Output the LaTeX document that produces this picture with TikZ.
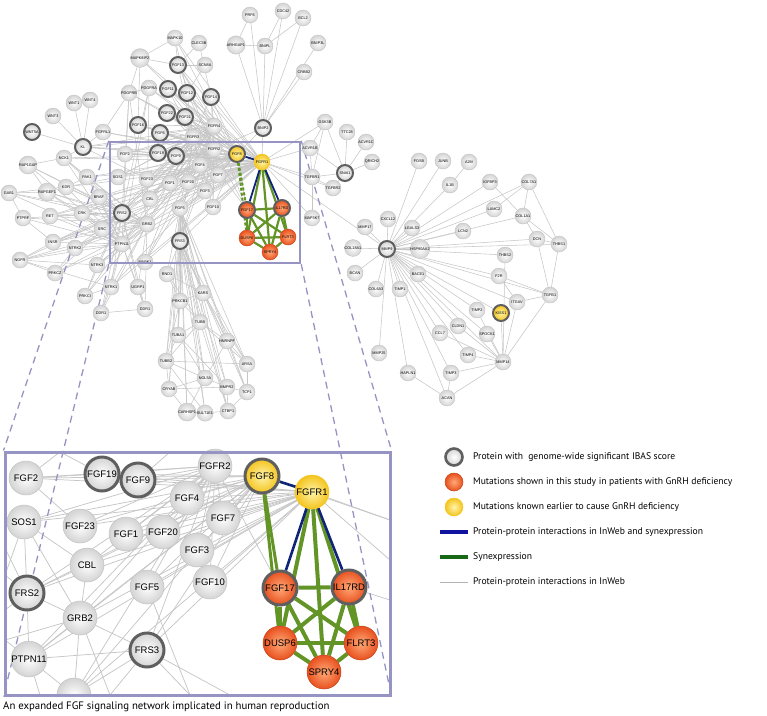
\documentclass[tikz,border=0pt]{standalone}
\usepackage{fontspec}
\setmainfont{Liberation Sans}
\newfontfamily\legfont{PT Sans}
\pgfdeclarelayer{edges}
\pgfsetlayers{edges,main}
\definecolor{nodeedge}{RGB}{195,195,195}
\definecolor{ringdark}{RGB}{95,95,95}
\definecolor{edgegrey}{RGB}{198,198,198}
\definecolor{syngreen}{RGB}{98,148,38}
\definecolor{legendgreen}{RGB}{24,105,22}
\definecolor{ppiblue}{RGB}{16,36,120}
\definecolor{legendblue}{RGB}{18,18,160}
\definecolor{boxpurple}{RGB}{150,148,194}
\definecolor{yelin}{RGB}{255,244,170}
\definecolor{yelout}{RGB}{244,196,30}
\definecolor{orin}{RGB}{255,170,120}
\definecolor{orout}{RGB}{232,80,30}
\tikzset{
 sn/.style={circle, minimum size=16, inner sep=0, draw=nodeedge, line width=0.4,
   inner color=white, outer color=black!17, font=\fontsize{3.8}{4}\selectfont},
 sd/.style={sn, draw=ringdark, line width=2},
 sy/.style={sn, inner color=yelin, outer color=yelout, draw=yelout},
 syd/.style={sy, draw=ringdark, line width=2},
 so/.style={sn, inner color=orin, outer color=orout, draw=orout!85!black},
 sod/.style={so, draw=ringdark, line width=2},
 bn/.style={circle, minimum size=34, inner sep=0, draw=nodeedge, line width=0.5,
   inner color=white, outer color=black!17, font=\fontsize{9.5}{10}\selectfont},
 bd/.style={bn, draw=ringdark, line width=3},
 by/.style={bn, inner color=yelin, outer color=yelout, draw=yelout},
 byd/.style={by, draw=ringdark, line width=3},
 bo/.style={bn, inner color=orin, outer color=orout, draw=orout!85!black},
 bod/.style={bo, draw=ringdark, line width=3},
 ge/.style={draw=edgegrey, line width=0.55},
 gei/.style={draw=edgegrey, line width=0.75},
 syn/.style={draw=syngreen, line width=2.2},
 synd/.style={draw=syngreen, line width=2, dash pattern=on 3pt off 2pt},
 syni/.style={draw=syngreen, line width=4},
 blu/.style={draw=ppiblue, line width=1.8},
 blui/.style={draw=ppiblue, line width=2.6},
 zoomline/.style={draw=boxpurple, line width=1.3, dash pattern=on 7pt off 5pt},
 frame/.style={draw=boxpurple, inner sep=0, fill=none},
 legtext/.style={anchor=west, inner sep=0, font=\legfont\fontsize{9.6}{11}\selectfont},
}
\begin{document}
\begin{tikzpicture}[x=1pt,y=-1pt]
\useasboundingbox (0,0) rectangle (767,715);
% ---------------- top network nodes ----------------
\foreach \n/\x/\y/\s/\t in {
PRF6/250/15/sn/PRF6, CDC42/283/11/sn/CDC42, BCL2/303/18/sn/BCL2, BNIP3L/318/43/sn/BNIP3L,
CRBB2/304/72/sn/CRBB2, ARHGAP1/236/45/sn/ARHGAP1, BNIPL/265/46/sn/BNIPL, BNIP2/263/128/sd/BNIP2,
MAPK10/175/38/sn/MAPK10, CLEC3B/199/43/sn/CLEC3B, MAPK8IP2/140/58/sn/MAPK8IP2,
FGF13/178/65/sd/FGF13, SCN8A/205/65/sn/SCN8A, PDGFRA/149/88/sn/PDGFRA, PDGFRB/129/93/sn/PDGFRB,
FGF11/168/89/sd/FGF11, FGF12/187/93/sd/FGF12, FGF14/211/97/sd/FGF14, FGF22/167/113/sd/FGF22,
FGF21/185/117/sd/FGF21, FGF16/138/125/sd/FGF16, FGF6/160/133/sd/FGF6, FGFR3/193/137/sn/FGFR3,
FGFR4/214/126/sn/FGFR4,
FGFRL1/103/132/sn/FGFRL1, KL/83/147/sd/KL, WNT1/74/103/sn/WNT1, WNT4/90/100/sn/WNT4,
WNT3/53/116/sn/WNT3, WNT5A/32/132/sd/WNT5A, NCK1/64/158/sn/NCK1, RAP1GAP/28/165/sn/RAP1GAP,
PAK1/87/177/sn/PAK1, KDR/66/187/sn/KDR, RAPGEF1/47/192/sn/RAPGEF1, GAB1/9/193/sn/GAB1,
BRAF/99/197/sn/BRAF, PTPRF/23/218/sn/PTPRF, RET/50/216/sn/RET, CRK/82/213/sn/CRK,
SRC/102/229/sn/SRC, INSR/53/242/sn/INSR, NTRK2/75/248/sn/NTRK2, NGFR/20/260/sn/NGFR,
NTRK3/97/265/sn/NTRK3, PRKCZ/55/273/sn/PRKCZ, PRKCI/85/296/sn/PRKCI, NTRK1/111/287/sn/NTRK1,
UGRP1/138/287/sn/UGRP1, DDRa/101/313/sn/DDR1, DDRb/145/309/sn/DDR1,
RND1/167/274/sn/RND1, PRKCB1/180/301/sn/PRKCB1, KARS/203/293/sn/KARS, TUBB/200/322/sn/TUBB,
TUBA1/178/335/sn/TUBA1, HNRNPF/227/341/sn/HNRNPF, TUBB2/166/361/sn/TUBB2, ARSA/247/364/sn/ARSA,
NOL5A/205/378/sn/NOL5A, BMPR2/227/387/sn/BMPR2, TCP1/247/392/sn/TCP1, CRYAB/169/389/sn/CRYAB,
CARHSP1/187/412/sn/CARHSP1, SULT1E1/205/413/sn/SULT1E1, CTBP1/228/411/sn/CTBP1,
FGF2/125/154/sn/FGF2, FGF19/158/153/sd/FGF19, FGF9/176/156/sd/FGF9, FGFR2/214/149/sn/FGFR2,
FGF8/237/154/syd/FGF8, FGFR1/262/162/sy/FGFR1, FGF4/200/165/sn/FGF4, FGF7/218/175/sn/FGF7,
SOS1/118/177/sn/SOS1, FGF23/147/179/sn/FGF23, FGF1/170/183/sn/FGF1, FGF20/188/182/sn/FGF20,
FGF3/205/191/sn/FGF3, CBL/150/199/sn/CBL, FGF5/180/208/sn/FGF5, FGF10/213/207/sn/FGF10,
FRS2/122/213/sd/FRS2, GRB2/147/224/sn/GRB2, FRS3/180/241/sd/FRS3, PTPN11/122/244/sn/PTPN11,
MAPK1/145/262/sn/MAPK1, FGF17/247/210/sod/FGF17, IL17RD/282/208/sod/IL17RD,
DUSP6/247/238/so/DUSP6, FLRT3/288/237/so/FLRT3, SPRY4/270/252/so/SPRY4,
GSK3B/325/122/sn/GSK3B, TTC28/347/132/sn/TTC28, ACVR1C/366/142/sn/ACVR1C, ACVR1B/310/148/sn/ACVR1B,
QRICH2/372/162/sn/QRICH2, SNAI1/345/173/sd/SNAI1, TGFBR1/312/177/sn/TGFBR1, TGFBR2/333/188/sn/TGFBR2,
MAP3K7/312/218/sn/MAP3K7,
FOSB/419/161/sn/FOSB, JUNB/443/161/sn/JUNB, A2M/469/162/sn/A2M, IL1B/450/185/sn/IL1B,
IGFBP3/490/182/sn/IGFBP3, COL7A1/529/182/sn/COL7A1, LAMC2/494/209/sn/LAMC2, COL1A1/523/216/sn/COL1A1,
LCN2/463/231/sn/LCN2, DCN/537/239/sn/DCN, THBS1/559/244/sn/THBS1, THBS2/505/255/sn/THBS2,
CXCL12/388/219/sn/CXCL12, MMP17/365/227/sn/MMP17, LGALS3/412/228/sn/LGALS3, COL18A1/353/248/sn/COL18A1,
MMP9/387/249/sd/MMP9, HSP90AA2/420/249/sn/HSP90AA2, BCAN/355/273/sn/BCAN, BACE1/418/274/sn/BACE1,
F2R/499/276/sn/F2R, COL6A3/376/289/sn/COL6A3, TIMP1/400/289/sn/TIMP1, TGFB1/550/295/sn/TGFB1,
ITGAV/517/302/sn/ITGAV, TIMP2/477/310/sn/TIMP2, KISS1/501/313/syd/KISS1, CLDN1/458/326/sn/CLDN1,
SPOCK1/487/334/sn/SPOCK1, CCL7/440/333/sn/CCL7, MMP25/379/353/sn/MMP25, TIMP4/468/355/sn/TIMP4,
MMP14/503/362/sn/MMP14, HAPLN1/408/373/sn/HAPLN1, TIMP3/451/373/sn/TIMP3, ACAN/447/398/sn/ACAN}
{\node[\s] (\n) at (\x,\y) {\t};}
% zoom box
\node[frame, line width=2.5, minimum width=190, minimum height=121] (zbox) at (205,202.5) {};
% ---------------- inset nodes ----------------
\begin{scope}
\clip (5,452) rectangle (390,695);
\node[bn] (iMAPK1) at (74,695) {};
\end{scope}
\foreach \n/\x/\y/\s/\t in {
iFGF2/26/478/bn/FGF2, iFGF19/102/474/bd/FGF19, iFGF9/138/480/bd/FGF9, iFGFR2/215/466/bn/FGFR2,
iFGF8/262/476/byd/FGF8, iFGFR1/312/492/by/FGFR1, iFGF4/187/498/bn/FGF4, iFGF7/223/518/bn/FGF7,
iSOS1/24/522/bn/SOS1, iFGF23/80/526/bn/FGF23, iFGF1/126/534/bn/FGF1, iFGF20/163/532/bn/FGF20,
iFGF3/197/550/bn/FGF3, iCBL/87/565/bn/CBL, iFGF5/147/587/bn/FGF5, iFGF10/210/582/bn/FGF10,
iFRS2/27/593/bd/FRS2, iGRB2/80/618/bn/GRB2, iFRS3/147/650/bd/FRS3, iPTPN11/29/659/bn/PTPN11,
iFGF17/280/588/bod/FGF17, iIL17RD/349/587/bod/IL17RD, iDUSP6/280/643/bo/DUSP6,
iFLRT3/361/643/bo/FLRT3, iSPRY4/324/672/bo/SPRY4}
{\node[\s] (\n) at (\x,\y) {\t};}
\node[frame, line width=3, minimum width=385, minimum height=243] (inset) at (197.5,573.5) {};
% free ends of inset connectors that leave the frame
\foreach \c/\x/\y in {oL1/5/548, oL2/5/575, oL3/5/610, oL4/5/640, oB1/40/695, oB2/110/695,
 oB3/190/695, oB4/230/695, oR1/390/520, oR2/390/560, oR3/390/600, oT1/60/452, oT2/170/452}
 {\coordinate (\c) at (\x,\y);}
% ---------------- legend ----------------
\node[bd, minimum size=17, line width=2.6] (lg1) at (454,457) {};
\node[bo, minimum size=18] (lg2) at (454,482) {};
\node[by, minimum size=18] (lg3) at (454,507) {};
\coordinate (lb1) at (440,532); \coordinate (lb2) at (468,532);
\coordinate (lc1) at (440,557); \coordinate (lc2) at (468,557);
\coordinate (ld1) at (440,582); \coordinate (ld2) at (468,582);
\draw[draw=legendblue, line width=4] (lb1) -- (lb2);
\draw[draw=legendgreen, line width=4] (lc1) -- (lc2);
\draw[draw=black!30, line width=1] (ld1) -- (ld2);
\node[legtext] (lt1) at (473,457) {Protein with\ \ genome-wide significant IBAS score};
\node[legtext] (lt2) at (473,482) {Mutations shown in this study in patients with GnRH deficiency};
\node[legtext] (lt3) at (473,507) {Mutations known earlier to cause GnRH deficiency};
\node[legtext] (lt4) at (473,532) {Protein-protein interactions in InWeb and synexpression};
\node[legtext] (lt5) at (473,557) {Synexpression};
\node[legtext] (lt6) at (473,582) {Protein-protein interactions in InWeb};
\node[legtext, font=\legfont\fontsize{10.8}{12}\selectfont] (cap) at (3,707)
 {An expanded FGF signaling network implicated in human reproduction};
% ---------------- edges ----------------
\begin{pgfonlayer}{edges}
\foreach \a in {FGF13,FGF11,FGF12,FGF14,FGF22,FGF21,FGF16,FGF6,FGF2,FGF19,FGF9,FGF4,FGF7,FGF23,FGF1,FGF20,FGF3,FGF5,FGF10,FGF17}
 \foreach \b in {FGFR1,FGFR2,FGFR3,FGFR4,FGF8} {\draw[ge] (\a) -- (\b);}
\foreach \a in {FRS2,FRS3,GRB2,PTPN11,SOS1,CBL,MAPK1,SRC}
 \foreach \b in {FGFR1,FGFR2,FGFR3,FGFR4} {\draw[ge] (\a) -- (\b);}
\foreach \a in {NCK1,PAK1,KDR,RAPGEF1,GAB1,BRAF,PTPRF,RET,CRK,INSR,NTRK2,NTRK3,NTRK1,UGRP1,PDGFRA,PDGFRB,RAP1GAP,NGFR,PRKCZ,PRKCI,DDRa,DDRb,SRC}
 \foreach \b in {FRS2,GRB2,PTPN11} {\draw[ge] (\a) -- (\b);}
\foreach \a in {NCK1,PAK1,KDR,CRK,RET,INSR,NTRK2,NTRK3,NTRK1,PDGFRA,PDGFRB,FGFRL1,BRAF,KL,MAPK8IP2,MAPK10}
 {\draw[ge] (\a) -- (FGFR1); \draw[ge] (\a) -- (FGF8);}
\foreach \a in {RND1,PRKCB1,KARS,TUBB,TUBA1,HNRNPF,TUBB2,ARSA,NOL5A,BMPR2,TCP1,CRYAB,CARHSP1,SULT1E1,CTBP1}
 {\draw[ge] (\a) -- (FRS3); \draw[ge] (\a) -- (FGF5);}
\foreach \a/\b in {BNIP2/PRF6,BNIP2/CDC42,BNIP2/BCL2,BNIP2/BNIP3L,BNIP2/CRBB2,BNIP2/ARHGAP1,BNIP2/BNIPL,
 ARHGAP1/PRF6,ARHGAP1/BNIPL,BNIPL/CDC42,BNIPL/BCL2,BNIP2/FGFR1,BNIP2/FGF8,BNIP2/FGFR2,
 MAPK8IP2/MAPK10,MAPK10/FGF13,MAPK8IP2/FGF13,CLEC3B/FGF13,SCN8A/FGF13,MAPK10/FGF12,MAPK8IP2/PDGFRB,
 MAPK8IP2/FGF16,CLEC3B/FGF14,PDGFRA/PDGFRB,PDGFRB/FGFRL1,SCN8A/FGF12,
 KL/WNT1,KL/WNT4,KL/WNT3,KL/WNT5A,KL/FGFRL1,KL/FGF23,KL/FGFR3,KL/FGFR4,KL/NCK1,KL/FGF19,
 NCK1/PAK1,NCK1/RAP1GAP,RAP1GAP/RAPGEF1,GAB1/RAPGEF1,GAB1/PTPRF,GAB1/KDR,KDR/PAK1,RAPGEF1/CRK,
 NGFR/NTRK2,NGFR/NTRK1,NGFR/NTRK3,NGFR/PRKCZ,NGFR/INSR,NTRK2/PRKCZ,NTRK3/PRKCI,NTRK1/PRKCI,
 NTRK1/DDRa,DDRa/DDRb,UGRP1/DDRb,PTPRF/INSR,RET/CRK,CRK/SRC,INSR/SRC,
 RND1/PRKCB1,PRKCB1/KARS,PRKCB1/TUBB,PRKCB1/TUBA1,KARS/TUBB,TUBB/TUBA1,TUBB/HNRNPF,TUBA1/TUBB2,
 TUBB/TUBB2,TUBB/ARSA,HNRNPF/ARSA,HNRNPF/NOL5A,TUBB2/CRYAB,TUBB2/NOL5A,NOL5A/BMPR2,BMPR2/TCP1,
 ARSA/TCP1,CRYAB/CARHSP1,CARHSP1/SULT1E1,SULT1E1/CTBP1,CTBP1/BMPR2,CTBP1/TCP1,NOL5A/CARHSP1,
 CRYAB/NOL5A,TUBA1/NOL5A,TUBB2/SULT1E1,HNRNPF/TCP1,TUBA1/BMPR2,KARS/HNRNPF,TUBB/CTBP1,CRYAB/BMPR2,
 TUBB2/ARSA,PRKCB1/TUBB2,KARS/ARSA,RND1/KARS,RND1/TUBB,
 SNAI1/GSK3B,SNAI1/TTC28,SNAI1/ACVR1C,SNAI1/QRICH2,SNAI1/ACVR1B,SNAI1/TGFBR1,SNAI1/TGFBR2,
 GSK3B/ACVR1B,GSK3B/TGFBR1,ACVR1B/TGFBR1,TGFBR1/TGFBR2,MAP3K7/TGFBR1,
 FGFR1/ACVR1B,FGFR1/TGFBR1,FGFR1/MAP3K7,FGFR1/GSK3B,FGFR1/MMP9,FGFR1/TGFBR2,
 MMP9/MMP17,MMP9/CXCL12,MMP9/LGALS3,MMP9/COL18A1,MMP9/HSP90AA2,MMP9/BCAN,MMP9/BACE1,MMP9/COL6A3,
 MMP9/TIMP1,MMP9/FOSB,MMP9/JUNB,MMP9/IL1B,MMP9/IGFBP3,MMP9/COL7A1,MMP9/LAMC2,MMP9/COL1A1,MMP9/LCN2,
 MMP9/DCN,MMP9/THBS1,MMP9/THBS2,MMP9/F2R,MMP9/TGFB1,MMP9/ITGAV,MMP9/TIMP2,MMP9/KISS1,MMP9/CLDN1,
 MMP9/SPOCK1,MMP9/CCL7,MMP9/MMP25,MMP9/TIMP4,MMP9/MMP14,MMP9/HAPLN1,MMP9/TIMP3,MMP9/ACAN,
 MMP14/TIMP2,MMP14/KISS1,MMP14/ITGAV,MMP14/TGFB1,MMP14/CLDN1,MMP14/SPOCK1,MMP14/CCL7,MMP14/TIMP4,
 MMP14/TIMP3,MMP14/ACAN,A2M/IL1B,IGFBP3/COL1A1,COL7A1/COL1A1,COL7A1/THBS1,COL7A1/LAMC2,COL1A1/DCN,
 COL1A1/THBS1,DCN/THBS1,THBS1/TGFB1,DCN/TGFB1,F2R/TGFB1,ITGAV/TGFB1,ACAN/HAPLN1,ACAN/TIMP3,
 THBS2/MMP14,F2R/ITGAV}
 {\draw[ge] (\a) -- (\b);}
% inset grey
\foreach \a in {iFGF2,iFGF19,iFGF9,iFGF4,iFGF7,iFGF23,iFGF1,iFGF20,iFGF3,iFGF5,iFGF10,iFGF17}
 \foreach \b in {iFGFR1,iFGFR2,iFGF8} {\draw[gei] (\a) -- (\b);}
\foreach \a in {iSOS1,iCBL,iFRS2,iGRB2,iFRS3,iPTPN11,iMAPK1}
 \foreach \b in {iFGFR1,iFGFR2,iFGF8} {\draw[gei] (\a) -- (\b);}
\foreach \a/\b in {iFRS2/iGRB2,iFRS2/iSOS1,iFRS2/iPTPN11,iFRS2/iCBL,iGRB2/iSOS1,iGRB2/iCBL,iGRB2/iPTPN11,
 iGRB2/iFRS3,iFRS3/iPTPN11,iFRS3/iMAPK1,iGRB2/iMAPK1,iPTPN11/iMAPK1,iCBL/iSOS1,iFGF23/iFGF2,iFGF2/iFGF19,
 iFRS2/oL1,iFRS2/oL2,iFRS2/oL3,iPTPN11/oL4,iSOS1/oL2,iGRB2/oL4,iPTPN11/oB1,iGRB2/oB2,iFRS3/oB2,
 iFRS3/oB3,iFRS3/oB4,iFGF5/oB3,iFGFR1/oR1,iFGFR1/oR2,iIL17RD/oR3,iFGF8/oR1,iFGF19/oT1,iFGF9/oT2,iFGF2/oT1}
 {\draw[gei] (\a) -- (\b);}
% zoom lines
\draw[zoomline] (zbox.north west) -- (inset.north west);
\draw[zoomline] (zbox.south west) -- (inset.south west);
\draw[zoomline] (zbox.north east) -- (inset.north east);
\draw[zoomline] (zbox.south east) -- (inset.south east);
% synexpression (top)
\foreach \a/\b in {FGFR1/DUSP6,FGFR1/SPRY4,FGFR1/FLRT3,FGF17/IL17RD,FGF17/DUSP6,FGF17/FLRT3,FGF17/SPRY4,
 IL17RD/DUSP6,IL17RD/FLRT3,IL17RD/SPRY4,DUSP6/FLRT3,DUSP6/SPRY4,FLRT3/SPRY4}
 {\draw[syn] (\a) -- (\b);}
\draw[synd] (FGF8) -- (FGF17);
\draw[synd] (FGF8) -- (DUSP6);
\foreach \a/\b in {FGF8/FGFR1,FGFR1/FGF17,FGFR1/IL17RD} {\draw[blu] (\a) -- (\b);}
% synexpression (inset)
\foreach \a/\b in {iFGFR1/iDUSP6,iFGFR1/iSPRY4,iFGFR1/iFLRT3,iFGF17/iIL17RD,iFGF17/iDUSP6,iFGF17/iFLRT3,
 iFGF17/iSPRY4,iIL17RD/iDUSP6,iIL17RD/iFLRT3,iIL17RD/iSPRY4,iDUSP6/iFLRT3,iDUSP6/iSPRY4,iFLRT3/iSPRY4}
 {\draw[syni] (\a) -- (\b);}
\draw[syngreen, line width=3] (iFGF8) -- (iFGF17);
\draw[syngreen, line width=3] (iFGF8) -- (iDUSP6);
\foreach \a/\b in {iFGF8/iFGFR1,iFGFR1/iFGF17,iFGFR1/iIL17RD} {\draw[blui] (\a) -- (\b);}
\end{pgfonlayer}
\end{tikzpicture}
\end{document}
